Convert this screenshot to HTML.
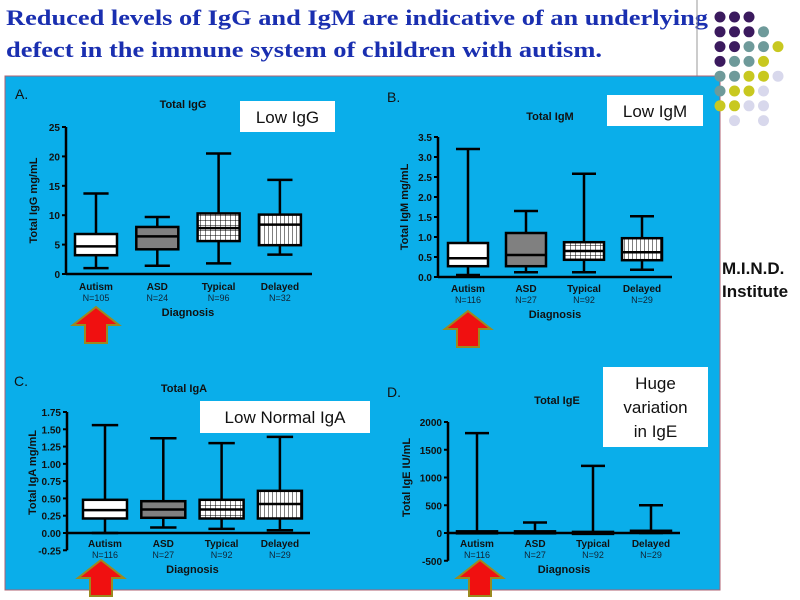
<!DOCTYPE html>
<html><head><meta charset="utf-8"><style>
html,body{margin:0;padding:0;background:#fff;width:800px;height:600px;overflow:hidden}
svg{display:block;font-family:"Liberation Sans",sans-serif}
</style></head><body>
<svg id="s" width="800" height="600" viewBox="0 0 800 600">
<defs>
<pattern id="grid" width="5" height="5" patternUnits="userSpaceOnUse"><rect width="5" height="5" fill="#fff"/><path d="M0 0H5M0 0V5" stroke="#000" stroke-width="1"/></pattern>
<pattern id="vert" width="4" height="4" patternUnits="userSpaceOnUse"><rect width="4" height="4" fill="#fff"/><path d="M0 0V4" stroke="#000" stroke-width="1"/></pattern>
</defs>
<text x="6" y="25" font-family="Liberation Serif, serif" font-weight="bold" font-size="22" fill="#1a2fb0" textLength="702" lengthAdjust="spacingAndGlyphs">Reduced levels of IgG and IgM are indicative of an underlying</text>
<text x="6" y="57" font-family="Liberation Serif, serif" font-weight="bold" font-size="22" fill="#1a2fb0" textLength="596" lengthAdjust="spacingAndGlyphs">defect in the immune system of children with autism.</text>
<line x1="697" y1="0" x2="697" y2="76" stroke="#999" stroke-width="1"/>
<rect x="5" y="76" width="715" height="514" fill="#0aaeea" stroke="#b06070" stroke-width="1"/>
<g id="dots"></g>
<text x="722" y="274" font-weight="bold" font-size="17" fill="#111">M.I.N.D.</text>
<text x="722" y="297" font-weight="bold" font-size="17" fill="#111">Institute</text>
<g id="charts"></g>
</svg>
<script>
const NS="http://www.w3.org/2000/svg";
const categories=["Autism","ASD","Typical","Delayed"];
const nA=["N=105","N=24","N=96","N=32"];
const nB=["N=116","N=27","N=92","N=29"];
const nC=["N=116","N=27","N=92","N=29"];
const nD=["N=116","N=27","N=92","N=29"];
// [min, q1, median, q3, max]
const igG=[[1.0,3.2,4.7,6.8,13.7],[1.4,4.2,6.4,8.0,9.7],[1.8,5.6,7.8,10.3,20.5],[3.3,4.9,8.4,10.1,16.0]];
const igM=[[0.05,0.27,0.47,0.85,3.2],[0.12,0.27,0.55,1.1,1.65],[0.12,0.43,0.65,0.87,2.58],[0.18,0.42,0.62,0.97,1.52]];
const igA=[[0.0,0.21,0.33,0.48,1.56],[0.08,0.22,0.34,0.46,1.37],[0.06,0.21,0.34,0.48,1.3],[0.04,0.21,0.42,0.61,1.39]];
const igE=[[0,5,15,30,1800],[0,5,15,30,190],[0,3,10,20,1210],[0,8,20,40,500]];
const ticksA=[0,5,10,15,20,25];
const ticksB=[0,0.5,1.0,1.5,2.0,2.5,3.0,3.5];
const ticksC=[-0.25,0,0.25,0.5,0.75,1.0,1.25,1.5,1.75];
const ticksD=[-500,0,500,1000,1500,2000];
const fills=["#fff","#808080","url(#grid)","url(#vert)"];

function el(tag,attrs,parent,text){const e=document.createElementNS(NS,tag);for(const k in attrs)e.setAttribute(k,attrs[k]);if(text!==undefined)e.textContent=text;(parent||document.getElementById('charts')).appendChild(e);return e;}

function panel(cfg){
  const g=el('g',{});
  
  
  const y=v=>cfg.y0-(v-cfg.vmin)/(cfg.vmax-cfg.vmin)*(cfg.y0-cfg.y1);
  const xs=i=>cfg.xc0+i*cfg.dx;
  const bottom=y(cfg.ticks[0]);
  // axes
  el('line',{x1:cfg.ox,y1:y(cfg.ticks[cfg.ticks.length-1]),x2:cfg.ox,y2:bottom,stroke:'#000','stroke-width':2.5},g);
  el('line',{x1:cfg.ox,y1:y(0),x2:cfg.xend,y2:y(0),stroke:'#000','stroke-width':2.5},g);
  cfg.ticks.forEach((t,i)=>{
    el('line',{x1:cfg.ox-4,y1:y(t),x2:cfg.ox,y2:y(t),stroke:'#000','stroke-width':2},g);
    const tl=el('text',{x:cfg.ox-6,y:y(t)+4,'text-anchor':'end','font-size':10,'font-weight':'bold',fill:'#111'},g,cfg.tickLabels[i]);
    
    
  });
  cfg.data.forEach((d,i)=>{
    const cx=xs(i),w=cfg.bw,h=w*0.6;
    const b=el('g',{},g);
    
    
    el('line',{x1:cx,y1:y(d[0]),x2:cx,y2:y(d[4]),stroke:'#000','stroke-width':2.5},b);
    el('line',{x1:cx-h/2,y1:y(d[0]),x2:cx+h/2,y2:y(d[0]),stroke:'#000','stroke-width':2.5},b);
    el('line',{x1:cx-h/2,y1:y(d[4]),x2:cx+h/2,y2:y(d[4]),stroke:'#000','stroke-width':2.5},b);
    el('rect',{x:cx-w/2,y:y(d[3]),width:w,height:Math.max(2,y(d[1])-y(d[3])),fill:fills[i],stroke:'#000','stroke-width':2.5},b);
    el('line',{x1:cx-w/2,y1:y(d[2]),x2:cx+w/2,y2:y(d[2]),stroke:'#000','stroke-width':2.5},b);
    const cl=el('text',{x:cx,y:cfg.labY,'text-anchor':'middle','font-size':10,'font-weight':'bold',fill:'#111'},g,categories[i]);
    
    
    const nl=el('text',{x:cx,y:cfg.labY+11,'text-anchor':'middle','font-size':9,fill:'#123'},g,cfg.n[i]);
    
    
  });
  const xt=el('text',{x:(xs(0)+xs(3))/2,y:cfg.labY+26,'text-anchor':'middle','font-size':11,'font-weight':'bold',fill:'#111'},g,'Diagnosis');
  
  const yt=el('text',{x:0,y:0,transform:`translate(${cfg.ytx},${(cfg.y0+cfg.y1)/2}) rotate(-90)`,'text-anchor':'middle','font-size':11,'font-weight':'bold',fill:'#111'},g,cfg.ytitle);
  
  const ct=el('text',{x:cfg.tx,y:cfg.ty,'text-anchor':'middle','font-size':11,'font-weight':'bold',fill:'#111'},g,cfg.title);
  
  const pl=el('text',{x:cfg.lx,y:cfg.ly,'font-size':14,fill:'#111'},g,cfg.letter);
  
  const nb=el('g',{},g);
  
  el('rect',{x:cfg.note[0],y:cfg.note[1],width:cfg.note[2],height:cfg.note[3],fill:'#fff'},nb);
  cfg.noteText.forEach((t,k)=>el('text',{x:cfg.note[0]+cfg.note[2]/2,y:cfg.note[1]+22+k*24,'text-anchor':'middle','font-size':17,fill:'#111'},nb,t));
  // arrow
  const ax=cfg.arrow[0],ay=cfg.arrow[1];
  const ar=el('path',{d:`M${ax} ${ay} L${ax+23} ${ay+18} L${ax+11} ${ay+18} L${ax+11} ${ay+36} L${ax-11} ${ay+36} L${ax-11} ${ay+18} L${ax-23} ${ay+18} Z`,fill:'#f01010',stroke:'#9a8a20','stroke-width':2},g);
  
}

panel({name:'chart-igg',data:igG,n:nA,ticks:ticksA,tickLabels:ticksA.map(String),vmin:0,vmax:25,y0:274,y1:127,ox:66,xend:312,xc0:96,dx:61.3,bw:42,labY:290,ytx:37,ytitle:'Total IgG mg/mL',title:'Total IgG',tx:183,ty:108,letter:'A.',lx:15,ly:99,note:[240,101,95,31],noteText:['Low IgG'],arrow:[96,307]});
panel({name:'chart-igm',data:igM,n:nB,ticks:ticksB,tickLabels:ticksB.map(v=>v.toFixed(1)),vmin:0,vmax:3.5,y0:277,y1:137,ox:438,xend:672,xc0:468,dx:58,bw:40,labY:292,ytx:408,ytitle:'Total IgM mg/mL',title:'Total IgM',tx:550,ty:120,letter:'B.',lx:387,ly:102,note:[607,95,96,31],noteText:['Low IgM'],arrow:[468,311]});
panel({name:'chart-iga',data:igA,n:nC,ticks:ticksC,tickLabels:ticksC.map(v=>v.toFixed(2)),vmin:0,vmax:1.75,y0:533,y1:412,ox:67,xend:310,xc0:105,dx:58.3,bw:44,labY:547,ytx:36,ytitle:'Total IgA mg/mL',title:'Total IgA',tx:184,ty:392,letter:'C.',lx:14,ly:386,note:[200,401,170,32],noteText:['Low Normal IgA'],arrow:[101,560]});
panel({name:'chart-ige',data:igE,n:nD,ticks:ticksD,tickLabels:ticksD.map(String),vmin:0,vmax:2000,y0:533,y1:422,ox:448,xend:680,xc0:477,dx:58,bw:40,labY:547,ytx:410,ytitle:'Total IgE IU/mL',title:'Total IgE',tx:557,ty:404,letter:'D.',lx:387,ly:397,note:[603,367,105,80],noteText:['Huge','variation','in IgE'],arrow:[480,560]});

// decorative dots
const P='#3b1a5e',T='#6e9a9a',Y='#c8c820',L='#d8d8ec';
const dotRows=[[P,P,P],[P,P,P,T],[P,P,T,T,Y],[P,T,T,Y],[T,T,Y,Y,L],[T,Y,Y,L],[Y,Y,L,L],[null,L,null,L]];
const dg=document.getElementById('dots');
dotRows.forEach((r,ri)=>r.forEach((c,ci)=>{if(c)el('circle',{cx:720+ci*14.5,cy:17+ri*14.8,r:5.5,fill:c},dg);}));
</script>
</body></html>
